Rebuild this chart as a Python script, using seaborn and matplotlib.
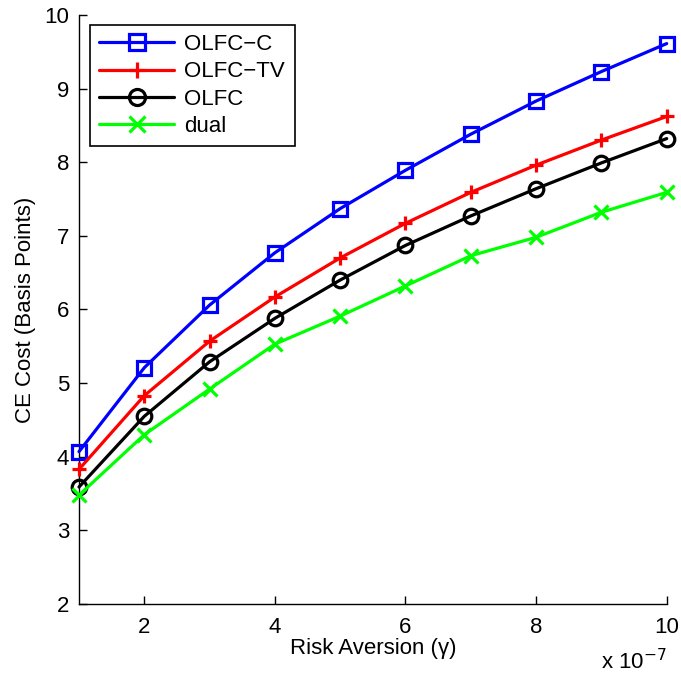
import numpy as np
import pandas as pd
import matplotlib
matplotlib.use('Agg')
import matplotlib.pyplot as plt
import seaborn as sns

# risk aversion gamma, in units of 1e-7
gamma = [1, 2, 3, 4, 5, 6, 7, 8, 9, 10]

olfc_c = [4.07, 5.21, 6.06, 6.77, 7.37, 7.89, 8.38, 8.83, 9.23, 9.61]
olfc_tv = [3.83, 4.83, 5.57, 6.17, 6.70, 7.17, 7.59, 7.96, 8.30, 8.62]
olfc = [3.59, 4.55, 5.29, 5.88, 6.40, 6.87, 7.27, 7.64, 7.99, 8.32]
dual = [3.48, 4.30, 4.92, 5.53, 5.91, 6.32, 6.73, 6.98, 7.32, 7.59]

series_names = ['OLFC\u2212C', 'OLFC\u2212TV', 'OLFC', 'dual']
series_vals = [olfc_c, olfc_tv, olfc, dual]
colors = ['#0000ff', '#ff0000', '#000000', '#00ff00']
markers = ['s', '+', 'o', 'x']

sns.set_style('white')
plt.rcParams['font.family'] = ['Liberation Sans', 'DejaVu Sans']
plt.rcParams['text.color'] = 'black'
plt.rcParams['axes.labelcolor'] = 'black'

fig = plt.figure(figsize=(6.81, 6.75), dpi=100)
ax = fig.add_axes([0.116, 0.105, 0.863, 0.873])

for name, vals, c, m in zip(series_names, series_vals, colors, markers):
    sns.lineplot(x=gamma, y=vals, ax=ax, color=c, marker=m, label=name,
                 linewidth=2.3, markersize=10 if m != 'o' else 10.5,
                 markerfacecolor='none', markeredgecolor=c, markeredgewidth=2.3,
                 clip_on=False, zorder=3)

ax.set_xlim(1, 10)
ax.set_ylim(2, 10)
ax.set_xticks([2, 4, 6, 8, 10])
ax.set_yticks(range(2, 11))
ax.tick_params(direction='in', length=6, width=1, labelsize=16, colors='black',
               left=True, bottom=True)
ax.tick_params(axis='x', pad=9)
ax.tick_params(axis='y', pad=7)
for s in ['top', 'right']:
    ax.spines[s].set_visible(False)
for s in ['left', 'bottom']:
    ax.spines[s].set_color('black')
    ax.spines[s].set_linewidth(1)

ax.set_xlabel('Risk Aversion (\u03b3)', fontsize=16, labelpad=0)
ax.set_ylabel('CE Cost (Basis Points)', fontsize=16, labelpad=6)
ax.text(1.0, -0.077, 'x 10$^{-7}$', transform=ax.transAxes, ha='right', va='top',
        fontsize=16)

leg = ax.legend(loc='upper left', bbox_to_anchor=(0.018, 0.983), fontsize=16,
                frameon=True, fancybox=False, framealpha=1, edgecolor='black',
                handlelength=3.4, borderpad=0.42, labelspacing=0.28,
                handletextpad=0.45, borderaxespad=0, markerscale=1.1)
leg.get_frame().set_linewidth(1.2)
leg.set_zorder(5)

fig.savefig('out.png', dpi=100)
